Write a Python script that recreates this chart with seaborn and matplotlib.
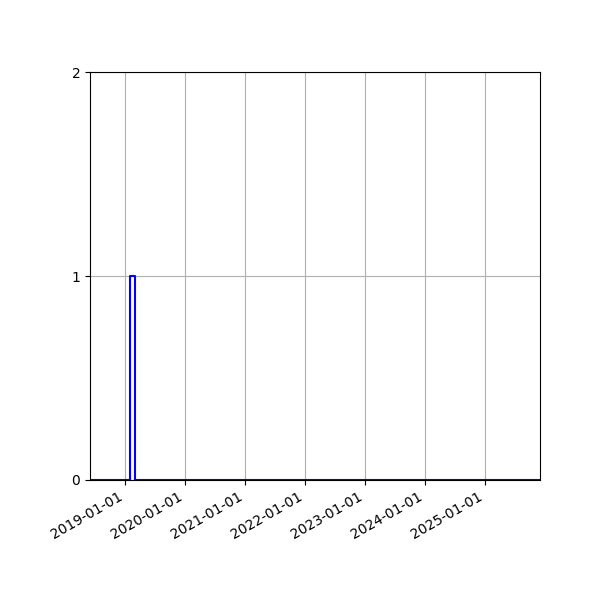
import seaborn as sns
import matplotlib.pyplot as plt
import matplotlib.dates as mdates
import pandas as pd

# event dates (one event in Feb 2019)
event_dates = ["2019-02-15"]
# monthly bin edges over the whole period
bin_start = "2018-06-01"
bin_end = "2025-12-01"
y_ticks = [0, 1, 2]

dates = pd.to_datetime(event_dates)
edges = mdates.date2num(pd.date_range(bin_start, bin_end, freq="MS"))

fig, ax = plt.subplots(figsize=(6, 6), dpi=100)
fig.subplots_adjust(left=0.15, right=0.9, top=0.88, bottom=0.2)

sns.histplot(x=mdates.date2num(dates), bins=edges, element="step", fill=False,
             color="blue", linewidth=1.5, ax=ax)

ax.set_xlim(edges[0], edges[-1])
ax.set_ylim(0, 2)
ax.set_yticks(y_ticks)
ax.xaxis.set_major_locator(mdates.YearLocator())
ax.xaxis.set_major_formatter(mdates.DateFormatter("%Y-%m-%d"))
ax.set_xlabel("")
ax.set_ylabel("")
ax.grid(True)
ax.set_axisbelow(True)
fig.autofmt_xdate()
fig.subplots_adjust(left=0.15, right=0.9, top=0.88, bottom=0.2)

plt.savefig("out.png")
